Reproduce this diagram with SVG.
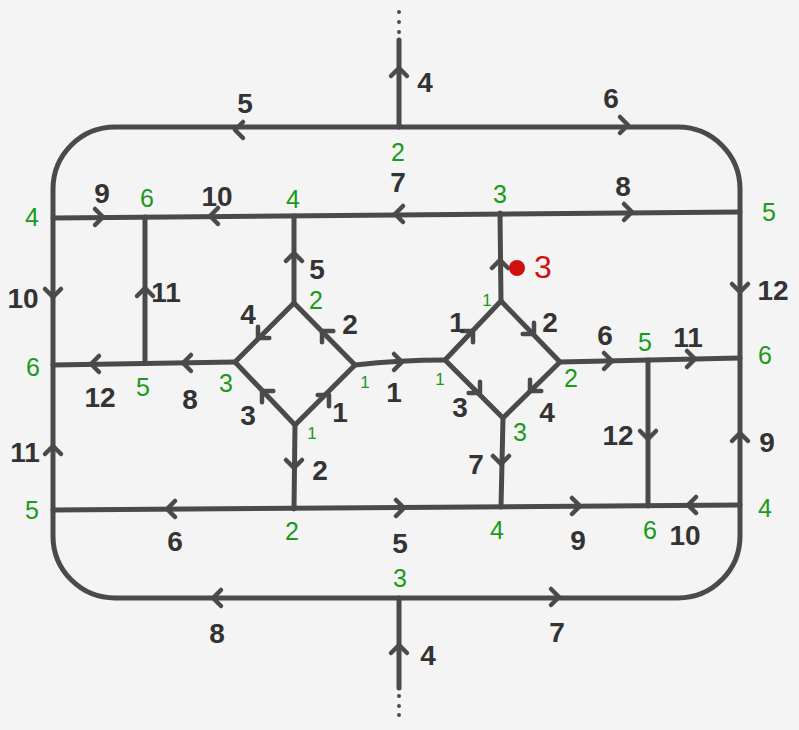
<svg xmlns="http://www.w3.org/2000/svg" xmlns:xlink="http://www.w3.org/1999/xlink" width="799" height="730" viewBox="0 0 799 730">
<style>
.ln{fill:none;stroke:#4a4a4a;stroke-width:5;stroke-linecap:round;stroke-linejoin:round}
.ch{fill:none;stroke:#4a4a4a;stroke-width:4.5;stroke-linecap:round;stroke-linejoin:round}
.dot{fill:#4a4a4a}
.b{font-family:"Liberation Sans",Arial,sans-serif;font-size:28px;font-weight:bold;fill:#333;text-anchor:middle;dominant-baseline:central}
.g{font-family:"Liberation Sans",Arial,sans-serif;font-size:25px;fill:#1a9a1a;text-anchor:middle;dominant-baseline:central}
.gs{font-family:"Liberation Sans",Arial,sans-serif;font-size:17px;fill:#1a9a1a;text-anchor:middle;dominant-baseline:central}
.r{font-family:"Liberation Sans",Arial,sans-serif;font-size:32px;fill:#d01010;text-anchor:middle;dominant-baseline:central}
</style>
<defs>
<path id="ch" class="ch" d="M-8,-8 L0,0 L-8,8"/>
</defs>
<rect width="799" height="730" fill="#f4f4f4"/>
<g id="connectors">
<rect class="ln" x="53" y="127" width="687" height="471" rx="62" ry="62"/>
<line class="ln" x1="399" y1="40" x2="399" y2="127"/>
<line class="ln" x1="399" y1="598" x2="399" y2="688"/>
<line class="ln" x1="53" y1="218" x2="740" y2="212"/>
<line class="ln" x1="145" y1="217" x2="145" y2="363"/>
<line class="ln" x1="294" y1="216" x2="294" y2="303"/>
<line class="ln" x1="500" y1="213" x2="501" y2="301"/>
<polygon class="ln" points="294,303 355,365 295,425 235,362"/>
<polygon class="ln" points="501,301 560,362 503,418 445,360"/>
<line class="ln" x1="53" y1="365" x2="235" y2="362"/>
<path class="ln" d="M355,365 Q400,360 445,360"/>
<line class="ln" x1="560" y1="362" x2="740" y2="358"/>
<line class="ln" x1="648" y1="360" x2="648" y2="506"/>
<line class="ln" x1="295" y1="425" x2="294" y2="509"/>
<line class="ln" x1="503" y1="418" x2="501" y2="507"/>
<line class="ln" x1="53" y1="510" x2="740" y2="505"/>
<circle class="dot" cx="399" cy="12" r="2"/><circle class="dot" cx="399" cy="22" r="2"/><circle class="dot" cx="399" cy="32" r="2"/>
<circle class="dot" cx="399" cy="696" r="2"/><circle class="dot" cx="399" cy="706" r="2"/><circle class="dot" cx="399" cy="715" r="2"/>
<!-- arrowheads -->
<use xlink:href="#ch" transform="translate(235,130) rotate(180)"/>
<use xlink:href="#ch" transform="translate(628,125)"/>
<use xlink:href="#ch" transform="translate(399,68) rotate(-90)"/>
<use xlink:href="#ch" transform="translate(399,645) rotate(-90)"/>
<use xlink:href="#ch" transform="translate(103,217)"/>
<use xlink:href="#ch" transform="translate(210,216) rotate(180)"/>
<use xlink:href="#ch" transform="translate(395,214) rotate(180)"/>
<use xlink:href="#ch" transform="translate(632,212)"/>
<use xlink:href="#ch" transform="translate(145,288) rotate(-90)"/>
<use xlink:href="#ch" transform="translate(294,253) rotate(-90)"/>
<use xlink:href="#ch" transform="translate(500,260) rotate(-90)"/>
<use xlink:href="#ch" transform="translate(258,338) rotate(135)"/>
<use xlink:href="#ch" transform="translate(322,331) rotate(225)"/>
<use xlink:href="#ch" transform="translate(262,391) rotate(225)"/>
<use xlink:href="#ch" transform="translate(329,395) rotate(-45)"/>
<use xlink:href="#ch" transform="translate(402,362)"/>
<use xlink:href="#ch" transform="translate(473,331) rotate(-45)"/>
<use xlink:href="#ch" transform="translate(534,334) rotate(45)"/>
<use xlink:href="#ch" transform="translate(480,393) rotate(45)"/>
<use xlink:href="#ch" transform="translate(530,391) rotate(135)"/>
<use xlink:href="#ch" transform="translate(294,468) rotate(90)"/>
<use xlink:href="#ch" transform="translate(501,464) rotate(90)"/>
<use xlink:href="#ch" transform="translate(183,363) rotate(180)"/>
<use xlink:href="#ch" transform="translate(91,364) rotate(180)"/>
<use xlink:href="#ch" transform="translate(612,361)"/>
<use xlink:href="#ch" transform="translate(695,359)"/>
<use xlink:href="#ch" transform="translate(648,439) rotate(90)"/>
<use xlink:href="#ch" transform="translate(740,292) rotate(90)"/>
<use xlink:href="#ch" transform="translate(740,433) rotate(-90)"/>
<use xlink:href="#ch" transform="translate(53,297) rotate(90)"/>
<use xlink:href="#ch" transform="translate(53,446) rotate(-90)"/>
<use xlink:href="#ch" transform="translate(167,509) rotate(180)"/>
<use xlink:href="#ch" transform="translate(404,508)"/>
<use xlink:href="#ch" transform="translate(580,506)"/>
<use xlink:href="#ch" transform="translate(688,505) rotate(180)"/>
<use xlink:href="#ch" transform="translate(213,598) rotate(180)"/>
<use xlink:href="#ch" transform="translate(559,597)"/>
</g>
<g id="edge-labels">
<text class="b" x="425" y="82">4</text>
<text class="b" x="245" y="103">5</text>
<text class="b" x="611" y="98">6</text>
<text class="b" x="102" y="193">9</text>
<text class="b" x="217" y="196">10</text>
<text class="b" x="398" y="182">7</text>
<text class="b" x="623" y="186">8</text>
<text class="b" x="166" y="292">11</text>
<text class="b" x="317" y="269">5</text>
<text class="b" x="23" y="298">10</text>
<text class="b" x="100" y="397">12</text>
<text class="b" x="190" y="399">8</text>
<text class="b" x="248" y="314">4</text>
<text class="b" x="350" y="324">2</text>
<text class="b" x="248" y="415">3</text>
<text class="b" x="340" y="412">1</text>
<text class="b" x="394" y="392">1</text>
<text class="b" x="25" y="452">11</text>
<text class="b" x="320" y="470">2</text>
<text class="b" x="457" y="322">1</text>
<text class="b" x="550" y="322">2</text>
<text class="b" x="460" y="407">3</text>
<text class="b" x="547" y="412">4</text>
<text class="b" x="605" y="335">6</text>
<text class="b" x="688" y="337">11</text>
<text class="b" x="773" y="290">12</text>
<text class="b" x="618" y="435">12</text>
<text class="b" x="767" y="442">9</text>
<text class="b" x="476" y="464">7</text>
<text class="b" x="175" y="541">6</text>
<text class="b" x="400" y="543">5</text>
<text class="b" x="578" y="540">9</text>
<text class="b" x="685" y="535">10</text>
<text class="b" x="217" y="633">8</text>
<text class="b" x="557" y="632">7</text>
<text class="b" x="428" y="655">4</text>
</g>
<g id="marker-red">
<circle cx="517" cy="268" r="8" fill="#d01010"/>
<text class="r" x="543" y="267">3</text>
</g>
<g id="n-top"><text class="g" x="398" y="152">2</text></g>
<g id="n-tl"><text class="g" x="32" y="217">4</text></g>
<g id="n-t1"><text class="g" x="147" y="198">6</text></g>
<g id="n-t2"><text class="g" x="293" y="199">4</text></g>
<g id="n-t3"><text class="g" x="500" y="194">3</text></g>
<g id="n-tr"><text class="g" x="769" y="212">5</text></g>
<g id="n-ld-top"><text class="g" x="316" y="300">2</text></g>
<g id="n-ml"><text class="g" x="33" y="367">6</text></g>
<g id="n-m1"><text class="g" x="143" y="387">5</text></g>
<g id="n-ld-left"><text class="g" x="226" y="383">3</text></g>
<g id="n-ld-right"><text class="gs" x="365" y="382">1</text></g>
<g id="n-ld-bottom"><text class="gs" x="312" y="433">1</text></g>
<g id="n-rd-left"><text class="gs" x="440" y="379">1</text></g>
<g id="n-rd-top"><text class="gs" x="487" y="300">1</text></g>
<g id="n-rd-right"><text class="g" x="571" y="378">2</text></g>
<g id="n-rd-bottom"><text class="g" x="520" y="432">3</text></g>
<g id="n-m2"><text class="g" x="645" y="342">5</text></g>
<g id="n-mr"><text class="g" x="765" y="355">6</text></g>
<g id="n-bl"><text class="g" x="32" y="510">5</text></g>
<g id="n-b1"><text class="g" x="292" y="531">2</text></g>
<g id="n-bottom"><text class="g" x="400" y="578">3</text></g>
<g id="n-b2"><text class="g" x="497" y="530">4</text></g>
<g id="n-b3"><text class="g" x="650" y="530">6</text></g>
<g id="n-br"><text class="g" x="765" y="508">4</text></g>
</svg>
